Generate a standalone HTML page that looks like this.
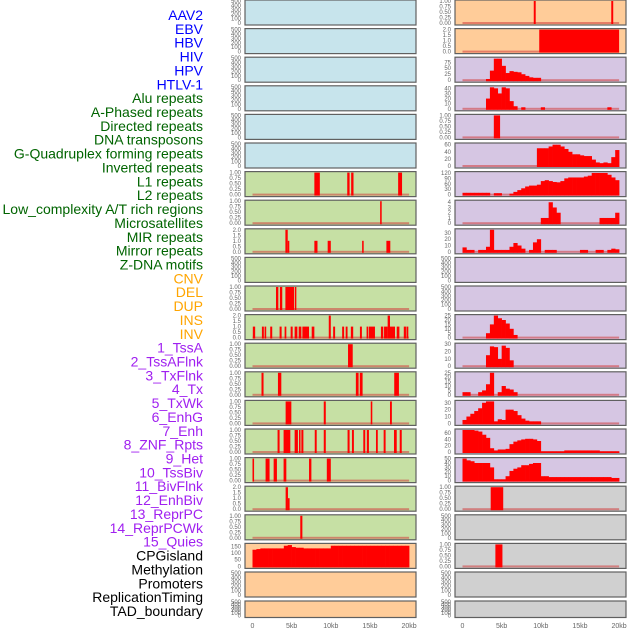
<!DOCTYPE html>
<html><head><meta charset="utf-8"><style>
html,body{margin:0;padding:0;background:#fff;}
svg{display:block;font-family:"Liberation Sans",sans-serif;}
</style></head><body>
<svg id="chart" width="630" height="630" viewBox="0 0 630 630" xmlns="http://www.w3.org/2000/svg"></svg>
<script>
const trackLabels = ['AAV2','EBV','HBV','HIV','HPV','HTLV-1','Alu repeats','A-Phased repeats','Directed repeats','DNA transposons','G-Quadruplex forming repeats','Inverted repeats','L1 repeats','L2 repeats','Low_complexity A/T rich regions','Microsatellites','MIR repeats','Mirror repeats','Z-DNA motifs','CNV','DEL','DUP','INS','INV','1_TssA','2_TssAFlnk','3_TxFlnk','4_Tx','5_TxWk','6_EnhG','7_Enh','8_ZNF_Rpts','9_Het','10_TssBiv','11_BivFlnk','12_EnhBiv','13_ReprPC','14_ReprPCWk','15_Quies','CPGisland','Methylation','Promoters','ReplicationTiming','TAD_boundary'];
const labelGroups = ['virus','virus','virus','virus','virus','virus','repeat','repeat','repeat','repeat','repeat','repeat','repeat','repeat','repeat','repeat','repeat','repeat','repeat','sv','sv','sv','sv','sv','chrom','chrom','chrom','chrom','chrom','chrom','chrom','chrom','chrom','chrom','chrom','chrom','chrom','chrom','chrom','other','other','other','other','other'];
const xTickValues = [0,5,10,15,20];
const xTickLabels = ['0','5kb','10kb','15kb','20kb'];
const tick500 = [0,100,200,300,400,500];
const tick1 = [0,0.25,0.5,0.75,1];
const tick2 = [0,0.5,1,1.5,2];
const leftBg = ['blue','blue','blue','blue','blue','blue','green','green','green','green','green','green','green','green','green','green','green','green','green','orange','orange','orange'];
const rightBg = ['orange','orange','purple','purple','purple','purple','purple','purple','purple','purple','purple','purple','purple','purple','purple','purple','purple','grey','grey','grey','grey','grey'];
// segments: [startKb, endKb, value]
const segL7 = [[7.9,8.6,1],[12.1,12.4,1],[12.6,12.9,1],[18.6,19.1,1]];
const segL8 = [[16.3,16.5,1]];
const segL9 = [[4.2,4.5,2],[4.5,4.7,1],[7.9,8.3,1],[9.6,10.0,1],[14.0,14.2,1],[17.1,17.6,1]];
const segL11 = [[3.0,3.3,1],[3.5,3.8,1],[4.2,5.3,1],[5.4,5.6,1]];
const segL12 = [[0.04,0.34,1],[1.2,1.45,1],[1.54,1.75,1],[2.26,2.52,1],[3.46,3.72,1],[4.1,4.32,1],[4.87,5.13,1],[5.38,5.73,1],[5.9,6.24,1],[6.37,7.22,1],[7.56,7.9,1],[9.74,10.0,2],[10.3,10.55,1],[11.45,11.7,1],[11.9,12.14,1],[12.56,12.86,1],[13.72,13.97,1],[14.57,14.79,1],[14.87,15.64,1],[16.4,16.7,1],[16.8,17.26,1],[17.26,17.56,2],[17.56,18.2,1],[18.42,18.76,1],[19.32,19.6,1],[19.66,19.9,1]];
const segL13 = [[12.2,12.8,1]];
const segL14 = [[1.15,1.41,1],[3.25,3.68,1],[13.2,13.55,1],[13.7,14.06,1],[18.1,18.7,1]];
const segL15 = [[4.23,4.96,1],[9.1,9.36,1],[15.1,15.3,1],[17.56,17.8,1]];
const segL16 = [[3.2,3.46,1],[3.97,4.83,1],[5.38,5.8,1],[5.94,6.1,1],[6.24,6.5,1],[7.95,8.2,1],[9.1,9.36,1],[12.14,12.4,1],[12.7,12.95,1],[14.15,14.4,1],[14.6,14.87,1],[15.77,16.0,1],[16.75,17.0,1],[18.07,18.42,1],[18.8,19.06,1]];
const segL17 = [[0,0.2,1],[1.67,2.18,1],[2.7,3.12,1],[3.97,4.32,1],[7.22,7.52,1],[9.49,10.0,1]];
const segL18 = [[4.23,4.53,2],[4.53,4.74,1]];
const segL19 = [[6.1,6.37,1]];
const segR1 = [[9.1,9.35,1],[19.0,19.25,1]];
const segR2 = [[9.8,20,2]];
const segR5 = [[4.0,4.8,1]];
const segR18 = [[3.6,5.2,1]];
const segR20 = [[4.2,5.1,1]];
// binned profiles, 0.5kb bins (40 bins)
const binCPG = [125,130,135,135,135,135,135,135,155,160,145,140,140,135,135,135,135,135,135,135,155,155,155,155,155,155,155,155,155,155,155,155,155,155,155,155,155,155,155,155];
const binHIV = [0,0,0,0,0,0,5,40,90,90,60,30,38,35,33,25,18,12,10,10,0,0,0,0,0,0,0,0,0,0,0,0,0,0,0,0,0,0,0,0];
const binHPV = [0,0,0,0,0,0,20,42,40,30,42,40,15,5,0,3,0,0,0,0,3,0,0,0,0,0,0,0,0,0,0,0,0,0,0,0,0,3,0,0];
const binR6 = [0,0,0,0,0,0,0,0,0,0,0,0,0,0,0,0,0,0,0,50,50,50,55,60,60,55,48,40,33,33,30,28,28,18,10,8,10,8,25,45];
const binR7 = [10,10,10,10,10,10,10,0,8,8,0,0,5,15,25,35,45,50,50,55,75,80,75,70,68,75,90,95,95,95,95,100,105,120,120,120,120,110,95,80];
const binR8 = [0,0,0,0,0,0,0,0,0,0,0,0,0,0,0,0,0,0,0,0,1,1,4,3,2,0,0,0,0,0,0,0,0,0,0,1,1,1,1,2];
const binR9 = [7,3,3,0,3,3,8,35,3,3,3,3,8,14,10,5,0,3,15,20,0,3,3,3,0,0,0,0,0,0,3,3,0,0,3,3,0,3,5,4];
const binR12 = [0,0,0,0,0,0,5,15,25,22,20,16,10,3,0,0,0,0,0,0,0,0,0,0,0,0,0,0,0,0,0,0,0,0,0,0,0,0,0,0];
const binR13 = [0,0,0,0,0,0,15,27,26,10,28,25,8,0,0,0,0,0,0,0,0,0,0,0,0,0,0,0,0,0,0,0,0,0,0,0,0,0,0,0];
const binR14 = [3,3,0,0,3,5,12,25,0,3,10,7,6,3,0,0,0,0,0,0,0,0,0,0,0,0,0,0,0,0,0,0,0,0,0,0,0,0,0,0];
const binR15 = [5,10,14,18,22,30,32,32,3,6,5,20,20,18,12,7,4,3,3,3,0,0,0,0,0,0,0,0,0,0,0,0,0,0,0,0,0,0,0,0];
const binR16 = [70,70,70,68,65,55,45,12,5,8,8,10,25,33,37,40,42,42,40,35,2,2,2,2,2,2,5,5,5,5,5,5,5,5,5,2,2,2,2,2];
const binR17 = [50,46,44,40,40,40,40,30,3,3,3,10,22,27,30,35,35,38,40,40,10,10,8,8,8,8,8,8,8,8,8,8,8,8,8,8,8,8,6,6];

const leftPanels = [
 {t:tick500},{t:tick500},{t:tick500},{t:tick500},{t:tick500},{t:tick500},
 {t:tick1,seg:segL7,m:1},{t:tick1,seg:segL8,m:1},{t:tick2,seg:segL9,m:2},{t:tick500},
 {t:tick1,seg:segL11,m:1},{t:tick2,seg:segL12,m:2},{t:tick1,seg:segL13,m:1},{t:tick1,seg:segL14,m:1},
 {t:tick1,seg:segL15,m:1},{t:tick1,seg:segL16,m:1},{t:tick1,seg:segL17,m:1},{t:tick2,seg:segL18,m:2},
 {t:tick1,seg:segL19,m:1},{t:[0,50,100,150],bin:binCPG,m:165},{t:tick500},{t:tick500}];
const rightPanels = [
 {t:tick1,seg:segR1,m:1},{t:tick2,seg:segR2,m:2},{t:[0,25,50,75],bin:binHIV,m:92},{t:[0,10,20,30,40],bin:binHPV,m:43},
 {t:tick1,seg:segR5,m:1},{t:[0,20,40,60],bin:binR6,m:62},{t:[0,30,60,90,120],bin:binR7,m:122},{t:[0,1,2,3,4],bin:binR8,m:4.2},
 {t:[0,10,20,30],bin:binR9,m:35},{t:tick500},{t:tick500},{t:[0,5,10,15,20,25],bin:binR12,m:25},
 {t:[0,10,20,30],bin:binR13,m:30},{t:[0,5,10,15,20,25],bin:binR14,m:25},{t:[0,10,20,30],bin:binR15,m:32},
 {t:[0,20,40,60],bin:binR16,m:70},{t:[0,10,20,30,40,50],bin:binR17,m:50},{t:tick1,seg:segR18,m:1},
 {t:tick500},{t:tick1,seg:segR20,m:1},{t:tick500},{t:tick500}];

const NS='http://www.w3.org/2000/svg';
const svg=document.getElementById('chart');
const bgColors={blue:'#c7e4ec',green:'#c6e0a4',orange:'#ffcc99',purple:'#d6c6e3',grey:'#d0d0d0'};
const labelColors={virus:'#0000ff',repeat:'#006400',sv:'#ffa500',chrom:'#a020f0',other:'#000000'};
function mk(tag,attrs,parent){const e=document.createElementNS(NS,tag);for(const k in attrs)e.setAttribute(k,attrs[k]);(parent||svg).appendChild(e);return e;}
function fmt(v,ticks){
  if(ticks===tick1) return v.toFixed(2);
  if(ticks===tick2) return v.toFixed(1);
  return String(v);
}
trackLabels.forEach((lab,i)=>{
  const t=mk('text',{x:203,y:15+i*13.86+5,'text-anchor':'end','font-size':'14',fill:labelColors[labelGroups[i]]});
  t.textContent=lab;
  
  
});
function drawColumn(panels,bgs,px,side){
  const pw=171, x0=px+7.5, sc=7.83;
  const xs=kb=>x0+kb*sc;
  panels.forEach((p,i)=>{
    const top=i*28.6 + (i===21?0.4:0), h=(i===21?16.5:25);
    const g=mk('g',{});
    
    
    mk('rect',{x:px,y:top,width:pw,height:h,fill:bgColors[bgs[i]],stroke:'#606060','stroke-width':1.2},g);
    const m=p.m||500;
    const y0=top+h-2, ys=v=>y0-(v/m)*(h-3);
    // ticks
    p.t.forEach(v=>{
      const tt=mk('text',{x:px-4,y:ys(v)+2,'text-anchor':'end','font-size':'6',fill:'#666'},g);
      tt.textContent=fmt(v,p.t);
      
      
    });
    if(p.seg||p.bin){
      const bl=mk('rect',{x:xs(0),y:y0-1,width:xs(20)-xs(0),height:2,fill:'rgba(210,60,60,0.55)'},g);
      
      
    }
    if(p.seg){
      p.seg.forEach(s=>{
        const r=mk('rect',{x:xs(s[0]),y:ys(s[2]),width:Math.max(1.5,xs(s[1])-xs(s[0])),height:y0-ys(s[2])+1,fill:'#ff0000'},g);
        
        
      });
    }
    if(p.bin){
      p.bin.forEach((v,b)=>{
        if(v<=0) return;
        const r=mk('rect',{x:xs(b*0.5),y:ys(v),width:0.5*sc+0.3,height:y0-ys(v)+1,fill:'#ff0000'},g);
        
        
      });
    }
  });
  xTickValues.forEach((v,k)=>{
    const t=mk('text',{x:xs(v),y:628,'text-anchor':'middle','font-size':'7',fill:'#666'});
    t.textContent=xTickLabels[k];
    
    
  });
}
drawColumn(leftPanels,leftBg,245,'left');
drawColumn(rightPanels,rightBg,455,'right');
</script>
</body></html>
